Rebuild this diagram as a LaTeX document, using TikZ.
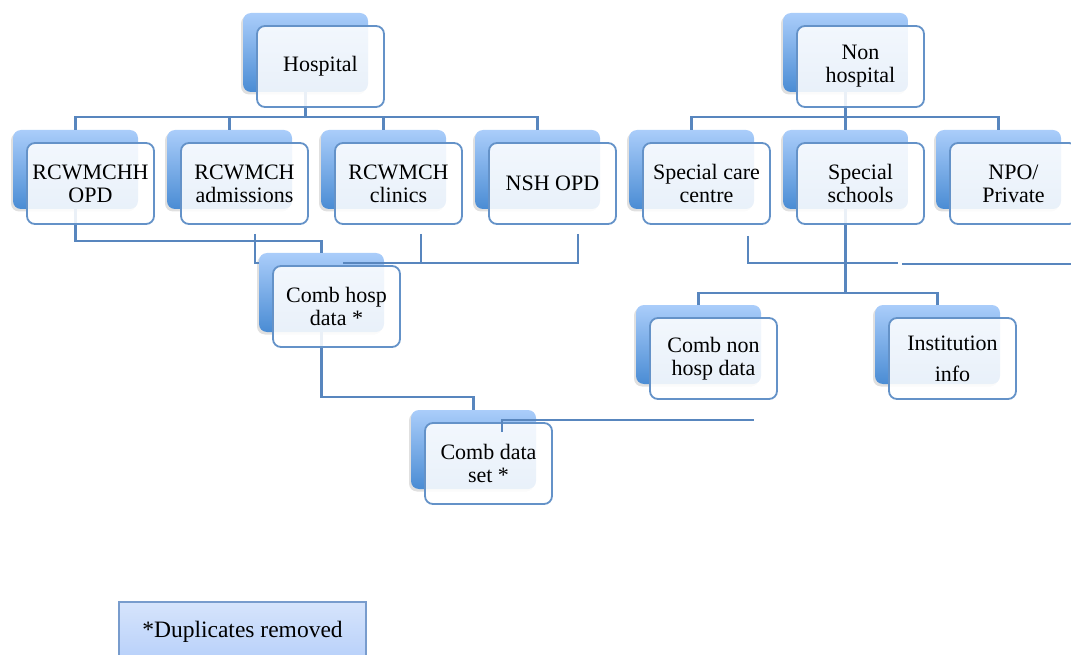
\documentclass[tikz,border=0pt]{standalone}
\usepackage{fontspec}
\setmainfont{Liberation Serif}
\usetikzlibrary{shadows,calc}
\definecolor{linkcol}{RGB}{88,134,190}
\definecolor{framecol}{RGB}{100,146,200}
\definecolor{backtop}{RGB}{170,205,250}
\definecolor{backbot}{RGB}{74,140,212}
\definecolor{legtop}{RGB}{214,228,252}
\definecolor{legbot}{RGB}{180,206,249}
\definecolor{legframe}{RGB}{120,156,205}
\pgfdeclarelayer{backl}
\pgfdeclarelayer{linel}
\pgfsetlayers{backl,linel,main}
\tikzset{
 backbox/.style={rounded corners=8pt, minimum width=125pt, minimum height=79pt, inner sep=0pt,
   top color=backtop, bottom color=backbot, draw=none,
   drop shadow={shadow xshift=-2pt, shadow yshift=-2.5pt, opacity=.2, fill=black!60}},
 frontbox/.style={rounded corners=8pt, minimum width=127pt, minimum height=81pt, inner sep=2pt,
   draw=framecol, line width=1.8pt, fill=white, fill opacity=.88, text opacity=1, draw opacity=1,
   align=center, font=\fontsize{22}{23}\selectfont},
 link/.style={draw=linkcol, line width=2.2pt},
 legend/.style={draw=legframe, line width=1.2pt, top color=legtop, bottom color=legbot,
   minimum width=247pt, inner ysep=0pt, text height=35pt, text depth=30pt,
   font=\fontsize{23.5}{26}\selectfont},
}
\newcommand\unitbox[4]{%
 \begin{pgfonlayer}{backl}\node[backbox] (#1B) at (#2+62.5,#3+39.5) {};\end{pgfonlayer}
 \node[frontbox] (#1) at (#2+77.5,#3+53.5) {#4};}
\begin{document}
\begin{tikzpicture}[x=1pt,y=-1pt]
\useasboundingbox (0,0) rectangle (1071,655);
\unitbox{hosp}{243}{13}{Hospital}
\unitbox{nonh}{783}{13}{Non\\hospital}
\unitbox{opd}{13}{130}{RCWMCHH\\OPD}
\unitbox{adm}{167}{130}{RCWMCH\\admissions}
\unitbox{cli}{321}{130}{RCWMCH\\clinics}
\unitbox{nsh}{475}{130}{NSH OPD}
\unitbox{scc}{629}{130}{Special care\\centre}
\unitbox{ssc}{783}{130}{Special\\schools}
\unitbox{npo}{936}{130}{NPO/\\Private}
\unitbox{chd}{259}{253}{Comb hosp\\data *}
\unitbox{cnh}{636}{305}{Comb non\\hosp data}
\unitbox{ins}{875}{305}{Institution\\[8pt]info}
\unitbox{cds}{411}{410}{Comb data\\set *}
\coordinate (hbar) at (0,117);
\coordinate (admEnd) at (255,234);
\coordinate (cliEnd) at (421,234);
\coordinate (nshEnd) at (578,234);
\coordinate (chLeft) at (343,263);
\coordinate (sccEnd) at (748,236);
\coordinate (sccFree) at (898,263);
\coordinate (rightA) at (902,264);
\coordinate (rightB) at (1071,264);
\coordinate (cdsEnd) at (502,432);
\coordinate (cdsFree) at (754,420);
\begin{pgfonlayer}{linel}
\draw[link] (hospB.south) -- (hospB |- hbar);
\draw[link] (opdB.north) -- (opdB.north |- hbar) -- (nshB.north |- hbar) -- (nshB.north);
\draw[link] (admB.north) -- (admB.north |- hbar);
\draw[link] (cliB.north) -- (cliB.north |- hbar);
\draw[link] (nonhB.south) -- (nonhB |- hbar);
\draw[link] (sccB.north) -- (sccB.north |- hbar) -- (npoB.north |- hbar) -- (npoB.north);
\draw[link] (sscB.north) -- (sscB.north |- hbar);
\draw[link] (opdB.south) -- (opdB |- 0,241) -| (chdB.north);
\draw[link] (admEnd) |- (chdB.west |- 0,263);
\draw[link] (nshEnd) -- (nshEnd |- chLeft) -- (chLeft);
\draw[link] (cliEnd) -- (cliEnd |- chLeft);
\draw[link] (chdB.south) -- (chdB |- 0,397) -| (cdsB.north);
\draw[link] (sccEnd) |- (sccFree);
\draw[link] (rightA) -- (rightB);
\draw[link] (sscB.south) -- (sscB |- 0,293);
\draw[link] (cnhB.north) -- (cnhB.north |- 0,293) -- (insB.north |- 0,293) -- (insB.north);
\end{pgfonlayer}
\draw[link] (cdsEnd) |- (cdsFree);
\node[legend, anchor=base] (leg) at (242.5,637) {*Duplicates removed};
\end{tikzpicture}
\end{document}
